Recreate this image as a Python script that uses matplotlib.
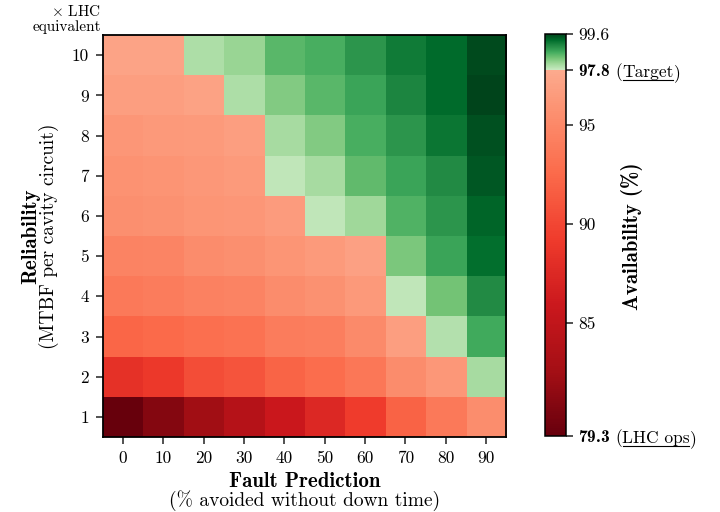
import numpy as np
import matplotlib
matplotlib.use('Agg')
import matplotlib.pyplot as plt
from matplotlib.colors import ListedColormap, Normalize
from matplotlib.lines import Line2D

plt.rcParams['font.family'] = 'cmr10'
plt.rcParams['mathtext.fontset'] = 'custom'
plt.rcParams['mathtext.rm'] = 'cmr10'
plt.rcParams['mathtext.bf'] = 'cmb10'
plt.rcParams['mathtext.it'] = 'cmmi10'
plt.rcParams['axes.formatter.use_mathtext'] = True
plt.rcParams['axes.unicode_minus'] = False

# fault prediction (% avoided without down time)
prediction = [0, 10, 20, 30, 40, 50, 60, 70, 80, 90]
# reliability (x LHC equivalent)
reliability = [1, 2, 3, 4, 5, 6, 7, 8, 9, 10]

# availability (%), one row per reliability level (1 .. 10)
avail_r1 = [79.3, 80.9, 82.5, 84.1, 85.9, 87.5, 89.3, 92.0, 93.8, 95.4]
avail_r2 = [88.3, 89.0, 90.5, 91.0, 92.2, 92.8, 93.6, 95.3, 96.3, 98.05]
avail_r3 = [92.3, 92.6, 93.0, 93.2, 94.0, 94.2, 95.1, 96.8, 97.95, 98.7]
avail_r4 = [93.8, 94.0, 94.4, 94.6, 95.3, 95.8, 96.4, 97.85, 98.4, 99.0]
avail_r5 = [94.6, 94.7, 95.3, 95.6, 96.1, 96.5, 97.0, 98.35, 98.75, 99.27]
avail_r6 = [95.6, 95.8, 96.1, 96.2, 96.6, 97.85, 98.1, 98.6, 98.9, 99.35]
avail_r7 = [95.9, 96.0, 96.3, 96.5, 97.85, 98.05, 98.5, 98.75, 99.0, 99.45]
avail_r8 = [96.2, 96.4, 96.5, 96.8, 98.05, 98.3, 98.65, 98.9, 99.2, 99.5]
avail_r9 = [96.8, 96.8, 97.1, 98.0, 98.3, 98.55, 98.75, 99.05, 99.3, 99.6]
avail_r10 = [97.2, 97.2, 98.0, 98.15, 98.55, 98.65, 98.9, 99.15, 99.3, 99.55]

lhc_ops = 79.3
target = 97.8
vmax = 99.6

data = np.array([avail_r1, avail_r2, avail_r3, avail_r4, avail_r5,
                 avail_r6, avail_r7, avail_r8, avail_r9, avail_r10])

# colorbar ticks and the notes written next to the two reference levels
cb_ticks = [lhc_ops, 85, 90, 95, target, vmax]
cb_labels = [r'$\mathbf{79.3}$', '85', '90', '95', r'$\mathbf{97.8}$', '99.6']
cb_notes = ['LHC ops', '', '', '', 'Target', '']

# red below the target, green above it
n = 2048
vals = np.linspace(lhc_ops, vmax, n)
reds = plt.get_cmap('Reds')
greens = plt.get_cmap('Greens')
cols = []
for v in vals:
    if v <= target:
        t = 1.0 - 0.7 * (v - lhc_ops) / (target - lhc_ops)
        cols.append(reds(t))
    else:
        t = 0.25 + 0.75 * (v - target) / (vmax - target)
        cols.append(greens(t))
cmap = ListedColormap(cols)
norm = Normalize(vmin=lhc_ops, vmax=vmax)

fig = plt.figure(figsize=(7.2, 5.12), dpi=100)
ax = fig.add_axes([0.143, 0.1465, 0.560, 0.785])
cax = fig.add_axes([0.757, 0.1485, 0.029, 0.785])

im = ax.imshow(data, cmap=cmap, norm=norm, origin='lower', aspect='auto',
               interpolation='nearest')
ax.set_xticks(range(len(prediction)))
ax.set_xticklabels([str(p) for p in prediction])
ax.set_yticks(range(len(reliability)))
ax.set_yticklabels([str(r) for r in reliability])
ax.tick_params(labelsize=12.5, length=5, width=1.1, direction='out', color='#222222', pad=5)
for s in ax.spines.values():
    s.set_linewidth(1.3)

# axis titles
fig.text(0.423, 0.059, 'Fault Prediction', ha='center', va='center',
         fontfamily='cmb10', fontsize=15)
fig.text(0.423, 0.023, '(% avoided without down time)', ha='center', va='center',
         fontsize=14)
fig.text(0.043, 0.539, 'Reliability', ha='center', va='center', rotation=90,
         fontfamily='cmb10', fontsize=15)
fig.text(0.068, 0.539, '(MTBF per cavity circuit)', ha='center', va='center',
         rotation=90, fontsize=14)
fig.text(0.14, 0.978, r'$\times$ LHC', ha='right', va='center', fontsize=11)
fig.text(0.141, 0.947, 'equivalent', ha='right', va='center', fontsize=11)

fs = 12.5
cb = fig.colorbar(im, cax=cax)
cb.outline.set_linewidth(1.1)
cb.set_ticks(cb_ticks)
cb.set_ticklabels(cb_labels)
cb.ax.tick_params(labelsize=fs, length=5, width=1.1, color='#222222', pad=4)
fig.text(0.878, 0.539, 'Availability (%)', ha='center', va='center', rotation=90,
         fontfamily='cmb10', fontsize=15)

# "(note)" after the bold tick labels, with the note underlined
fig.canvas.draw()
renderer = fig.canvas.get_renderer()
W, H = fig.bbox.width, fig.bbox.height
for lab, note in zip(cb.ax.get_yticklabels(), cb_notes):
    if not note:
        continue
    bb = lab.get_window_extent(renderer)
    x = bb.x1 + 5
    y = bb.y0 + 2
    for piece in ['(', note, ')']:
        t = fig.text(x / W, y / H, piece, fontsize=fs, ha='left', va='baseline')
        tb = t.get_window_extent(renderer)
        if piece == note:
            fig.add_artist(Line2D([(tb.x0 + 1) / W, (tb.x1 - 1) / W],
                                  [(y - 2.5) / H, (y - 2.5) / H],
                                  transform=fig.transFigure, color='black', lw=0.8))
        x = tb.x1

fig.savefig('out.png', dpi=100)
